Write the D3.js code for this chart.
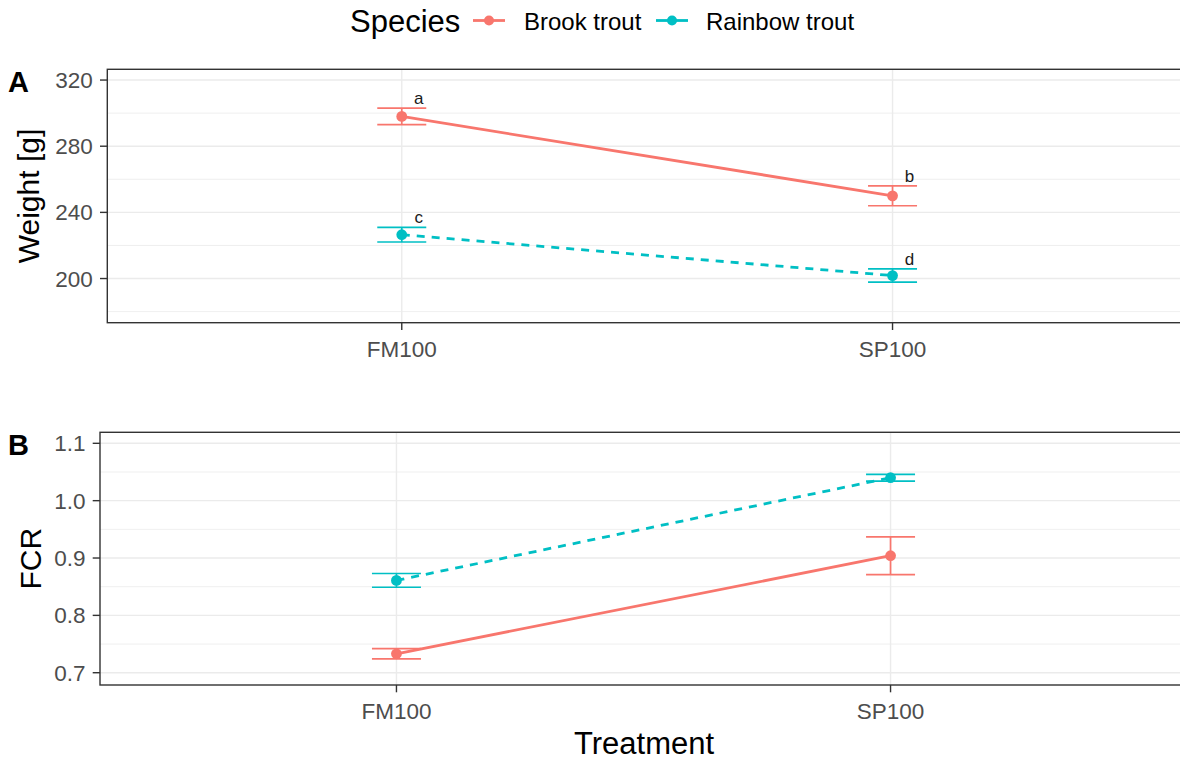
<!DOCTYPE html>
<html>
<head>
<meta charset="utf-8">
<script src="https://cdn.jsdelivr.net/npm/d3@7"></script>
<style>
  html, body { margin: 0; padding: 0; background: #fff; }
  svg { display: block; }
  text { font-family: "Liberation Sans", Arial, sans-serif; }
</style>
</head>
<body>
<svg id="chart" width="1180" height="760"></svg>
<script>
// ---- data ----
const treatments = ["FM100", "SP100"];
const species = ["Brook trout", "Rainbow trout"];
const speciesColors = ["#F8766D", "#00BFC4"];

// Final weight (g), mean and error
const weightBrook = [298.0, 250.0];
const weightBrookErr = [5.0, 6.0];
const weightRainbow = [226.5, 201.8];
const weightRainbowErr = [4.4, 4.0];
const lettersBrook = ["a", "b"];
const lettersRainbow = ["c", "d"];

// Feed conversion ratio, mean and error
const fcrBrook = [0.733, 0.904];
const fcrBrookErr = [0.009, 0.033];
const fcrRainbow = [0.861, 1.040];
const fcrRainbowErr = [0.012, 0.006];

// axis ticks
const weightTicks = [200, 240, 280, 320];
const weightMinor = [180, 220, 260, 300];
const weightDomain = [173.3, 326.5];
const fcrTicks = [0.7, 0.8, 0.9, 1.0, 1.1];
const fcrMinor = [0.75, 0.85, 0.95, 1.05];
const fcrDomain = [0.6786, 1.1192];

// ---- drawing ----
const svg = d3.select("#chart");
const FONT_SMALL = 22.5, FONT_LEGEND = 24, FONT_BIG = 31;

function panel(cfg) {
  const { left, right, top, bottom } = cfg;
  const g = svg.append("g");
  const x = d3.scalePoint().domain(treatments).range([left, right]).padding(0.6);
  const y = d3.scaleLinear().domain(cfg.domain).range([bottom, top]);

  // grid
  const grid = g.append("g");
  grid.selectAll("line.minor").data(cfg.minor).join("line")
    .attr("x1", left).attr("x2", right)
    .attr("y1", d => y(d)).attr("y2", d => y(d))
    .attr("stroke", "#EBEBEB").attr("stroke-width", 0.8);
  grid.selectAll("line.major").data(cfg.ticks).join("line")
    .attr("x1", left).attr("x2", right)
    .attr("y1", d => y(d)).attr("y2", d => y(d))
    .attr("stroke", "#EBEBEB").attr("stroke-width", 1.4);
  grid.selectAll("line.vmajor").data(treatments).join("line")
    .attr("x1", d => x(d)).attr("x2", d => x(d))
    .attr("y1", top).attr("y2", bottom)
    .attr("stroke", "#EBEBEB").attr("stroke-width", 1.4);

  // series
  cfg.series.forEach((s, i) => {
    const col = speciesColors[i];
    const pts = treatments.map((t, k) => ({ t, v: s.mean[k], e: s.err[k], lab: s.letters ? s.letters[k] : null }));
    g.append("path").datum(pts)
      .attr("d", d3.line().x(d => x(d.t)).y(d => y(d.v)))
      .attr("fill", "none").attr("stroke", col).attr("stroke-width", 2.8)
      .attr("stroke-dasharray", i === 1 ? "8,7" : null);
    const eb = g.append("g");
    eb.selectAll("line.v").data(pts).join("line")
      .attr("x1", d => x(d.t)).attr("x2", d => x(d.t))
      .attr("y1", d => y(d.v - d.e)).attr("y2", d => y(d.v + d.e))
      .attr("stroke", col).attr("stroke-width", 1.7);
    [-1, 1].forEach(sgn => {
      eb.selectAll("line.h" + sgn).data(pts).join("line")
        .attr("x1", d => x(d.t) - 24.5).attr("x2", d => x(d.t) + 24.5)
        .attr("y1", d => y(d.v + sgn * d.e)).attr("y2", d => y(d.v + sgn * d.e))
        .attr("stroke", col).attr("stroke-width", 1.7);
    });
    g.append("g").selectAll("circle").data(pts).join("circle")
      .attr("cx", d => x(d.t)).attr("cy", d => y(d.v)).attr("r", 5.4)
      .attr("fill", col);
    if (s.letters) {
      g.append("g").selectAll("text").data(pts).join("text")
        .attr("x", d => x(d.t) + 17).attr("y", d => y(d.v + d.e) - 4)
        .attr("text-anchor", "middle").attr("font-size", 17).attr("fill", "#1A1A1A")
        .text(d => d.lab);
    }
  });

  // border
  g.append("rect").attr("x", left).attr("y", top)
    .attr("width", right - left).attr("height", bottom - top)
    .attr("fill", "none").attr("stroke", "#333333").attr("stroke-width", 1.4);

  // y axis
  const ya = g.append("g");
  ya.selectAll("line").data(cfg.ticks).join("line")
    .attr("x1", left - 7.3).attr("x2", left)
    .attr("y1", d => y(d)).attr("y2", d => y(d))
    .attr("stroke", "#333333").attr("stroke-width", 1.4);
  ya.selectAll("text").data(cfg.ticks).join("text")
    .attr("x", left - 14.5).attr("y", d => y(d))
    .attr("dy", "0.36em").attr("text-anchor", "end")
    .attr("font-size", FONT_SMALL).attr("fill", "#4D4D4D")
    .text(cfg.fmt);

  // x axis
  const xa = g.append("g");
  xa.selectAll("line").data(treatments).join("line")
    .attr("x1", d => x(d)).attr("x2", d => x(d))
    .attr("y1", bottom).attr("y2", bottom + 7.3)
    .attr("stroke", "#333333").attr("stroke-width", 1.4);
  xa.selectAll("text").data(treatments).join("text")
    .attr("x", d => x(d)).attr("y", bottom + 34)
    .attr("text-anchor", "middle")
    .attr("font-size", FONT_SMALL).attr("fill", "#4D4D4D")
    .text(d => d);

  // y title
  g.append("text")
    .attr("transform", `translate(${cfg.titleX},${(top + bottom) / 2}) rotate(-90)`)
    .attr("text-anchor", "middle").attr("font-size", FONT_BIG - 1).attr("fill", "#000")
    .text(cfg.yTitle);

  // tag
  g.append("text").attr("x", 8).attr("y", top + 22.5)
    .attr("font-size", 29).attr("font-weight", "bold").attr("fill", "#000")
    .text(cfg.tag);
}

panel({
  left: 107.3, right: 1187, top: 69.3, bottom: 322.7,
  domain: weightDomain, ticks: weightTicks, minor: weightMinor,
  fmt: d => d3.format("d")(d), yTitle: "Weight [g]", titleX: 38.5, tag: "A",
  series: [
    { mean: weightBrook, err: weightBrookErr, letters: lettersBrook },
    { mean: weightRainbow, err: weightRainbowErr, letters: lettersRainbow }
  ]
});

panel({
  left: 100, right: 1187, top: 432.3, bottom: 685,
  domain: fcrDomain, ticks: fcrTicks, minor: fcrMinor,
  fmt: d => d3.format(".1f")(d), yTitle: "FCR", titleX: 41, tag: "B",
  series: [
    { mean: fcrBrook, err: fcrBrookErr },
    { mean: fcrRainbow, err: fcrRainbowErr }
  ]
});

// x axis title
svg.append("text").attr("x", 644).attr("y", 754)
  .attr("text-anchor", "middle").attr("font-size", FONT_BIG).attr("fill", "#000")
  .text("Treatment");

// legend
const legend = svg.append("g");
legend.append("text").attr("x", 350).attr("y", 32)
  .attr("font-size", FONT_BIG).attr("fill", "#000").text("Species");
const keyX = [473, 656];
const labelX = [524, 706];
species.forEach((s, i) => {
  const k = legend.append("g");
  k.append("line").attr("x1", keyX[i]).attr("x2", keyX[i] + 32)
    .attr("y1", 20.5).attr("y2", 20.5)
    .attr("stroke", speciesColors[i]).attr("stroke-width", 2.8);
  k.append("circle").attr("cx", keyX[i] + 16).attr("cy", 20.5).attr("r", 5)
    .attr("fill", speciesColors[i]);
  k.append("text").attr("x", labelX[i]).attr("y", 29.5)
    .attr("font-size", FONT_LEGEND).attr("fill", "#000").text(s);
});
</script>
</body>
</html>
